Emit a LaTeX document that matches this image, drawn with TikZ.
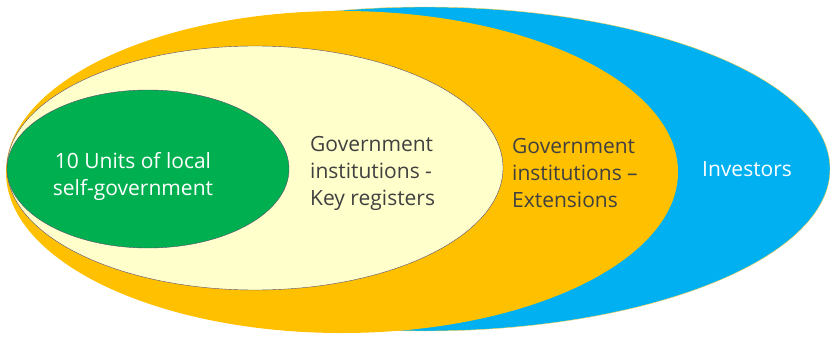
\documentclass[tikz,border=0pt]{standalone}
\usepackage{fontspec}
\setmainfont{Open Sans}
\usepackage{xcolor}
\definecolor{skyblue}{HTML}{00B0F0}
\definecolor{amber}{HTML}{FFC000}
\definecolor{cream}{HTML}{FFFFCC}
\definecolor{leafgreen}{HTML}{00B050}
\definecolor{textgray}{HTML}{404040}
\definecolor{rimgray}{HTML}{5A4E6E}

\begin{document}
\begin{tikzpicture}[x=1pt,y=1pt]
\tikzset{label/.style={font=\fontsize{21}{27}\selectfont, align=left, inner sep=0}}
\useasboundingbox (0,0) rectangle (830,338);
\fill[skyblue, draw=amber!70, thin] (425,169) ellipse [x radius=405, y radius=162];
\fill[amber] (342,166) ellipse [x radius=336, y radius=161];
\draw[rimgray, thin, fill=cream] (255,170) ellipse [x radius=248, y radius=122];
\draw[rimgray, thin, fill=leafgreen] (148,169) ellipse [x radius=141, y radius=79];
\node[label, white, align=center] (local) at (133,162) {10 Units of local\\self-government};
\node[label, textgray, anchor=west] (registers) at (310,165) {Government\\institutions -\\Key registers};
\node[label, textgray, anchor=west] (extensions) at (512,165) {Government\\institutions –\\Extensions};
\node[label, white, anchor=west] (investors) at (702,169) {Investors};
\end{tikzpicture}
\end{document}
